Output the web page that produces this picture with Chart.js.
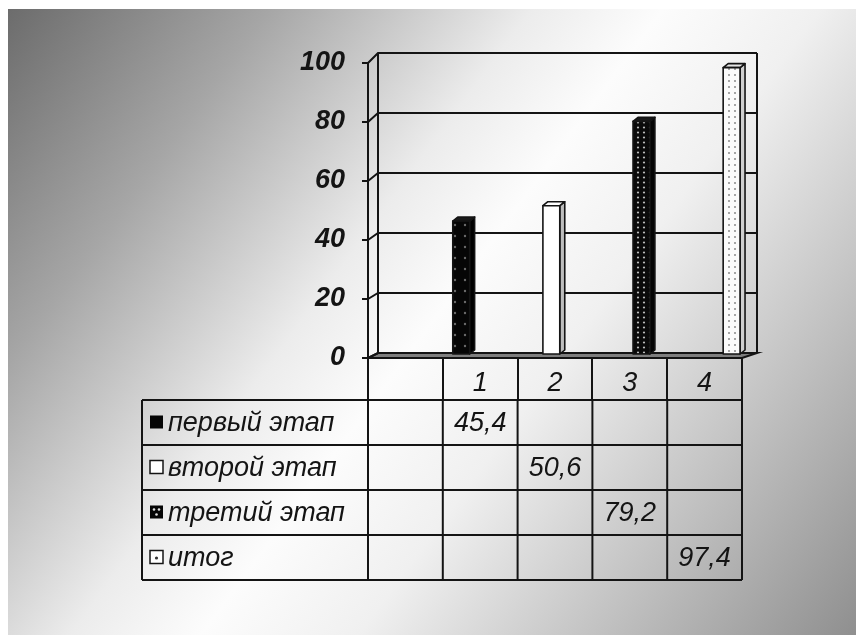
<!DOCTYPE html>
<html>
<head>
<meta charset="utf-8">
<script src="https://cdn.jsdelivr.net/npm/chart.js@4/dist/chart.umd.min.js"></script>
<style>
  html, body { margin: 0; padding: 0; background: #ffffff; }
  #wrap { width: 856px; height: 635px; }
</style>
</head>
<body>
<div id="wrap"><canvas id="c" width="856" height="635"></canvas></div>
<script>
// ---- data ----
const categories = ['', '1', '2', '3', '4'];
const seriesNames = ['первый этап', 'второй этап', 'третий этап', 'итог'];
const firstStage  = [null, 45.4, null, null, null];
const secondStage = [null, null, 50.6, null, null];
const thirdStage  = [null, null, null, 79.2, null];
const totalStage  = [null, null, null, null, 97.4];
const yTickValues = [0, 20, 40, 60, 80, 100];

// ---- styling helpers ----
const FONT = "'Liberation Sans', Arial, sans-serif";
const INK = '#141414';

function makeTile(w, h, bg, dots, dotColor, r) {
  const c = document.createElement('canvas');
  c.width = w; c.height = h;
  const g = c.getContext('2d');
  g.fillStyle = bg; g.fillRect(0, 0, w, h);
  g.fillStyle = dotColor;
  dots.forEach(([x, y]) => { g.beginPath(); g.arc(x, y, r, 0, Math.PI * 2); g.fill(); });
  return c;
}

const canvas = document.getElementById('c');
const ctx0 = canvas.getContext('2d');
const patDarkSparse = ctx0.createPattern(makeTile(10, 11, '#060606', [[5, 5]], '#6a6a6a', 1.2), 'repeat');
const patDarkDots   = ctx0.createPattern(makeTile(6, 5, '#0a0a0a', [[2, 2.5]], '#bdbdbd', 1.1), 'repeat');
const patLightDots  = ctx0.createPattern(makeTile(6, 6, '#fbfbfb', [[3, 3]], '#8a8a8a', 1.0), 'repeat');

const seriesLook = [
  { front: patDarkSparse, side: '#000000', top: '#1a1a1a', key: 'solid' },
  { front: '#ffffff',     side: '#bdbdbd', top: '#ffffff', key: 'white' },
  { front: patDarkDots,   side: '#050505', top: '#1a1a1a', key: 'dots' },
  { front: patLightDots,  side: '#cfcfcf', top: '#e6e6e6', key: 'light' }
];

// depth of the 3‑D box
const WALL_DX_L = 10, WALL_DX_R = 15;   // horizontal depth at left / right
const WALL_DY_B = -5, WALL_DY_T = -10;  // vertical depth at bottom / top
const BAR_OX = 4, BAR_OY = -3;          // bars sit part way into the box
const BAR_DX = 5, BAR_DY = -4;          // bar depth
const ROW_H = 45;
const TABLE_LEFT = 142;

// ---- plugins ----
const backgroundPlugin = {
  id: 'bgGradient',
  beforeDraw(chart) {
    const ctx = chart.ctx;
    ctx.save();
    ctx.fillStyle = '#ffffff';
    ctx.fillRect(0, 0, chart.width, chart.height);
    const g = ctx.createLinearGradient(8, 9, chart.width, chart.height);
    g.addColorStop(0.0, '#6c6c6c');
    g.addColorStop(0.2, '#a6a6a6');
    g.addColorStop(0.4, '#ececec');
    g.addColorStop(0.5, '#fcfcfc');
    g.addColorStop(0.62, '#f0f0f0');
    g.addColorStop(0.8, '#c2c2c2');
    g.addColorStop(1.0, '#8f8f8f');
    ctx.fillStyle = g;
    ctx.fillRect(8, 9, chart.width - 8, chart.height - 9);
    ctx.restore();
  }
};

function depthAt(chart, v) {
  const ys = chart.scales.y;
  const f = (v - ys.min) / (ys.max - ys.min);
  return WALL_DY_B + (WALL_DY_T - WALL_DY_B) * f;
}

const wallsPlugin = {
  id: 'walls3d',
  beforeDatasetsDraw(chart) {
    const ctx = chart.ctx;
    const { left, right } = chart.chartArea;
    const ys = chart.scales.y;
    const y0 = ys.getPixelForValue(0);
    const yTop = ys.getPixelForValue(ys.max);
    ctx.save();
    ctx.strokeStyle = INK;
    ctx.lineWidth = 2;

    // floor
    const d0 = depthAt(chart, 0);
    ctx.beginPath();
    ctx.moveTo(left, y0);
    ctx.lineTo(right, y0);
    ctx.lineTo(right + WALL_DX_R, y0 + d0);
    ctx.lineTo(left + WALL_DX_L, y0 + d0);
    ctx.closePath();
    ctx.fillStyle = '#7e7e7e';
    ctx.fill();
    ctx.stroke();

    // back wall grid lines + side wall connectors
    yTickValues.forEach(v => {
      const yf = ys.getPixelForValue(v);
      const yb = yf + depthAt(chart, v);
      ctx.beginPath();
      ctx.moveTo(left, yf);
      ctx.lineTo(left + WALL_DX_L, yb);
      ctx.lineTo(right + WALL_DX_R, yb);
      ctx.stroke();
    });

    // back wall verticals
    const dT = depthAt(chart, ys.max);
    ctx.beginPath();
    ctx.moveTo(left + WALL_DX_L, y0 + d0);
    ctx.lineTo(left + WALL_DX_L, yTop + dT);
    ctx.moveTo(right + WALL_DX_R, y0 + d0);
    ctx.lineTo(right + WALL_DX_R, yTop + dT);
    ctx.stroke();

    // front floor edge
    ctx.beginPath();
    ctx.moveTo(left, y0);
    ctx.lineTo(right, y0);
    ctx.stroke();
    ctx.restore();
  }
};

const barsPlugin = {
  id: 'bars3d',
  afterDatasetsDraw(chart) {
    const ctx = chart.ctx;
    ctx.save();
    ctx.lineWidth = 1.6;
    ctx.strokeStyle = INK;
    ctx.lineJoin = 'round';
    chart.data.datasets.forEach((ds, i) => {
      const look = seriesLook[i];
      chart.getDatasetMeta(i).data.forEach((el, j) => {
        if (ds.data[j] == null) return;
        const p = el.getProps(['x', 'y', 'base', 'width'], true);
        const l = p.x - p.width / 2 + BAR_OX, r = p.x + p.width / 2 + BAR_OX;
        const t = p.y + BAR_OY, b = p.base + BAR_OY;
        // right side
        ctx.beginPath();
        ctx.moveTo(r, b); ctx.lineTo(r, t);
        ctx.lineTo(r + BAR_DX, t + BAR_DY); ctx.lineTo(r + BAR_DX, b + BAR_DY);
        ctx.closePath();
        ctx.fillStyle = look.side; ctx.fill(); ctx.stroke();
        // top
        ctx.beginPath();
        ctx.moveTo(l, t); ctx.lineTo(r, t);
        ctx.lineTo(r + BAR_DX, t + BAR_DY); ctx.lineTo(l + BAR_DX, t + BAR_DY);
        ctx.closePath();
        ctx.fillStyle = look.top; ctx.fill(); ctx.stroke();
        // front
        ctx.fillStyle = look.front;
        ctx.fillRect(l, t, r - l, b - t);
        ctx.strokeRect(l, t, r - l, b - t);
      });
    });
    ctx.restore();
  }
};

function drawKey(ctx, kind, x, y) {
  const s = 13;
  ctx.save();
  ctx.lineWidth = 1.5;
  ctx.strokeStyle = INK;
  if (kind === 'solid') {
    ctx.fillStyle = '#050505'; ctx.fillRect(x, y, s, s);
  } else if (kind === 'white') {
    ctx.fillStyle = '#ffffff'; ctx.fillRect(x, y, s, s); ctx.strokeRect(x, y, s, s);
  } else if (kind === 'dots') {
    ctx.fillStyle = '#050505'; ctx.fillRect(x, y, s, s);
    ctx.fillStyle = '#e0e0e0';
    [[4, 4], [9, 4], [6.5, 9]].forEach(([dx, dy]) => { ctx.beginPath(); ctx.arc(x + dx, y + dy, 1.3, 0, Math.PI * 2); ctx.fill(); });
  } else {
    ctx.fillStyle = '#ffffff'; ctx.fillRect(x, y, s, s); ctx.strokeRect(x, y, s, s);
    ctx.fillStyle = '#333';
    ctx.beginPath(); ctx.arc(x + 6.5, y + 7.5, 1.6, 0, Math.PI * 2); ctx.fill();
  }
  ctx.restore();
}

const tablePlugin = {
  id: 'dataTable',
  afterDraw(chart) {
    const ctx = chart.ctx;
    const xs = chart.scales.x;
    const { left, right } = chart.chartArea;
    const top = xs.bottom;
    const n = chart.data.datasets.length;
    const bottom = top + n * ROW_H;
    const step = (right - left) / categories.length;
    ctx.save();
    ctx.strokeStyle = INK;
    ctx.lineWidth = 2;
    // horizontal rules
    for (let r = 0; r <= n; r++) {
      const y = top + r * ROW_H;
      ctx.beginPath(); ctx.moveTo(TABLE_LEFT, y); ctx.lineTo(right, y); ctx.stroke();
    }
    // vertical rules
    ctx.beginPath(); ctx.moveTo(TABLE_LEFT, top); ctx.lineTo(TABLE_LEFT, bottom); ctx.stroke();
    for (let c = 0; c <= categories.length; c++) {
      const x = left + c * step;
      ctx.beginPath(); ctx.moveTo(x, top); ctx.lineTo(x, bottom); ctx.stroke();
    }
    // rows
    ctx.fillStyle = INK;
    ctx.textBaseline = 'middle';
    chart.data.datasets.forEach((ds, i) => {
      const yMid = top + i * ROW_H + ROW_H / 2;
      drawKey(ctx, seriesLook[i].key, 150, yMid - 7);
      ctx.font = 'italic 27px ' + FONT;
      ctx.fillStyle = INK;
      ctx.textAlign = 'left';
      ctx.fillText(ds.label, 168, yMid + 1);
      ctx.textAlign = 'center';
      ds.data.forEach((v, j) => {
        if (v == null) return;
        const txt = v.toFixed(1).replace('.', ',');
        ctx.fillText(txt, xs.getPixelForValue(j), yMid + 1);
      });
    });
    ctx.restore();
  }
};

// ---- chart ----
new Chart(canvas, {
  type: 'bar',
  data: {
    labels: categories,
    datasets: [
      { label: seriesNames[0], data: firstStage },
      { label: seriesNames[1], data: secondStage },
      { label: seriesNames[2], data: thirdStage },
      { label: seriesNames[3], data: totalStage }
    ].map(d => Object.assign(d, { backgroundColor: 'rgba(0,0,0,0)', borderWidth: 0 }))
  },
  options: {
    responsive: false,
    animation: false,
    events: [],
    categoryPercentage: 0.82,
    barPercentage: 1.1,
    layout: { padding: { left: 0, right: 114, top: 63, bottom: 235 } },
    plugins: { legend: { display: false }, tooltip: { enabled: false } },
    scales: {
      y: {
        min: 0, max: 100,
        afterFit(scale) { scale.width = 368; },
        afterBuildTicks(scale) { scale.ticks = yTickValues.map(v => ({ value: v })); },
        ticks: { font: { family: FONT, size: 27, weight: 'bold', style: 'italic' }, color: INK, padding: 17 },
        grid: { drawOnChartArea: false, drawTicks: true, tickLength: 6, color: INK, lineWidth: 2 },
        border: { display: true, color: INK, width: 2 }
      },
      x: {
        afterFit(scale) { scale.height = 42; },
        ticks: { font: { family: FONT, size: 27, style: 'italic' }, color: INK, padding: -33, maxRotation: 0 },
        grid: { offset: true, drawOnChartArea: false, drawTicks: true, tickLength: 42, color: INK, lineWidth: 2 },
        border: { display: true, color: INK, width: 2 }
      }
    }
  },
  plugins: [backgroundPlugin, wallsPlugin, barsPlugin, tablePlugin]
});
</script>
</body>
</html>
